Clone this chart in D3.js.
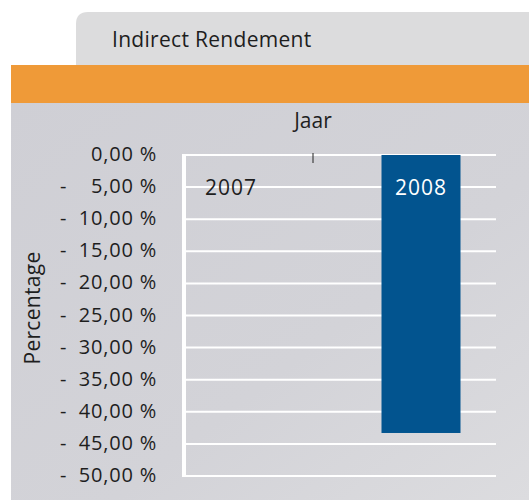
<!DOCTYPE html>
<meta charset="utf-8">
<script src="https://d3js.org/d3.v7.min.js"></script>
<style>
  body { margin: 0; background: #fff; }
  svg text { font-family: "Open Sans", "Noto Sans", sans-serif; fill: #1e1e1e; }
</style>
<div id="chart"></div>
<script>
// data
var years = ["2007", "2008"];
var values = [0, -43.3];
var yTicks = [0, -5, -10, -15, -20, -25, -30, -35, -40, -45, -50];
var chartTitle = "Indirect Rendement";
var xTitle = "Jaar";
var yTitle = "Percentage";

var W = 529, H = 500;
var svg = d3.select("#chart").append("svg")
    .attr("width", W)
    .attr("height", H);

// background panels
var defs = svg.append("defs");
var grad = defs.append("linearGradient").attr("id", "bg").attr("x1", 0).attr("y1", 0).attr("x2", 1).attr("y2", 1);
grad.append("stop").attr("offset", "0%").attr("stop-color", "#cfcfd5");
grad.append("stop").attr("offset", "60%").attr("stop-color", "#d3d3d8");
grad.append("stop").attr("offset", "100%").attr("stop-color", "#dcdcdf");

svg.append("path")
    .attr("d", "M76,80 L76,24 Q76,12 88,12 L529,12 L529,80 Z")
    .attr("fill", "#dcdcdd");
svg.append("rect")
    .attr("x", 11).attr("y", 100).attr("width", W - 11).attr("height", H - 100)
    .attr("fill", "url(#bg)");
svg.append("rect")
    .attr("x", 11).attr("y", 65).attr("width", W - 11).attr("height", 38)
    .attr("fill", "#ef9a38");

svg.append("text")
    .attr("x", 112).attr("y", 47)
    .style("font-size", "21px")
    .style("letter-spacing", "0.3px")
    .text(chartTitle);

// scales
var y = d3.scaleLinear().domain([0, -50]).range([155, 476]);
var x = d3.scaleBand().domain(years).range([136, 516]);
var plotLeft = 184, plotRight = 496;
var barW = 79;

// gridlines
svg.append("g").selectAll("line")
  .data(yTicks)
  .join("line")
    .attr("x1", plotLeft).attr("x2", plotRight)
    .attr("y1", function(d) { return y(d); })
    .attr("y2", function(d) { return y(d); })
    .attr("stroke", "#fff")
    .attr("stroke-width", 2);

// y axis line
svg.append("line")
    .attr("x1", plotLeft).attr("x2", plotLeft)
    .attr("y1", y(0) - 1).attr("y2", y(-50) + 1)
    .attr("stroke", "#fff")
    .attr("stroke-width", 4);

// y tick labels
var fmt = function(v) { return d3.format(".2f")(Math.abs(v)).replace(".", ",") + " %"; };
var lab = svg.append("g").selectAll("g")
  .data(yTicks)
  .join("g")
    .attr("transform", function(d) { return "translate(0," + y(d) + ")"; });
lab.append("text")
    .attr("x", 157).attr("dy", "0.3em")
    .attr("text-anchor", "end")
    .style("font-size", "20px")
    .style("letter-spacing", "0.8px")
    .text(fmt);
lab.filter(function(d) { return d < 0; }).append("text")
    .attr("x", 60).attr("dy", "0.3em")
    .style("font-size", "20px")
    .text("-");

// bars
svg.append("g").selectAll("rect")
  .data(values)
  .join("rect")
    .attr("x", function(d, i) { return x(years[i]) + x.bandwidth() / 2 - barW / 2; })
    .attr("width", barW)
    .attr("y", function(d) { return y(Math.max(0, d)); })
    .attr("height", function(d) { return Math.abs(y(d) - y(0)); })
    .attr("fill", "#02548f");

// category tick at top
svg.append("line")
    .attr("x1", x("2008") - 13).attr("x2", x("2008") - 13)
    .attr("y1", y(0) - 2).attr("y2", y(0) + 8)
    .attr("stroke", "#222")
    .attr("stroke-width", 1);

// category labels
svg.append("g").selectAll("text")
  .data(years)
  .join("text")
    .attr("x", function(d) { return x(d) + x.bandwidth() / 2; })
    .attr("y", 195)
    .attr("text-anchor", "middle")
    .style("font-size", "21px")
    .style("letter-spacing", "1px")
    .style("fill", function(d, i) { return values[i] < -5 ? "#fff" : "#1e1e1e"; })
    .text(function(d) { return d; });

// axis titles
svg.append("text")
    .attr("x", 313).attr("y", 128)
    .attr("text-anchor", "middle")
    .style("font-size", "21px")
    .text(xTitle);
svg.append("text")
    .attr("transform", "translate(40,308) rotate(-90)")
    .attr("text-anchor", "middle")
    .style("font-size", "21px")
    .style("letter-spacing", "0.3px")
    .text(yTitle);
</script>
